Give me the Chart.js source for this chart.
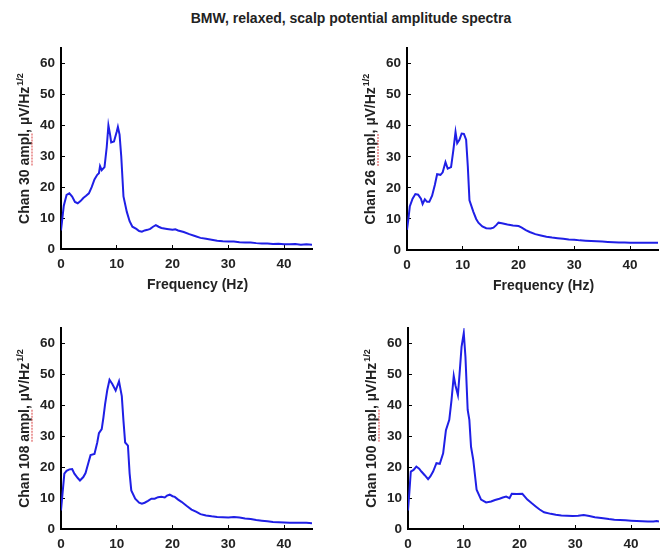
<!DOCTYPE html>
<html>
<head>
<meta charset="utf-8">
<script src="https://cdn.jsdelivr.net/npm/chart.js@4.4.1/dist/chart.umd.min.js"></script>
<style>
body { margin: 0; background: #fff; width: 665px; height: 550px; position: relative; overflow: hidden; font-family: "Liberation Sans", Arial, sans-serif; }
canvas { position: absolute; }
#title { position: absolute; left: 151px; width: 400px; top: 10px; text-align: center; font: bold 14px "Liberation Sans", Arial, sans-serif; color: #222; }
</style>
</head>
<body>
<div id="title">BMW, relaxed, scalp potential amplitude spectra</div>
<canvas id="c30" width="330" height="270" style="left:0px;top:30px"></canvas>
<canvas id="c26" width="330" height="270" style="left:335px;top:30px"></canvas>
<canvas id="c108" width="330" height="240" style="left:0px;top:310px"></canvas>
<canvas id="c100" width="330" height="240" style="left:335px;top:310px"></canvas>
<script>
// axes
const xTicks = [0, 10, 20, 30, 40];
const yTicks = [0, 10, 20, 30, 40, 50, 60];

// Chan 30 (haut gauche)
const chan30Freq = [0, 0.25, 0.5, 1, 1.5, 2, 2.5, 3, 3.5, 4, 4.5, 5, 5.5, 6, 6.5, 6.8, 7, 7.3, 7.8, 8.2, 8.5, 8.8, 9, 9.5, 10, 10.2, 10.5, 10.8, 11.2, 11.8, 12.3, 12.8, 13.5, 14, 14.5, 15, 15.5, 16, 16.5, 17, 17.5, 18, 19, 20, 20.5, 21, 22, 23, 24, 25, 26, 27, 28, 29, 30, 31, 32, 33, 34, 35, 36, 37, 38, 39, 40, 41, 42, 43, 44, 45];
const chan30Amp  = [6, 10, 14, 17.5, 18, 17, 15.2, 14.8, 15.5, 16.5, 17.2, 18, 20, 22.5, 24, 24.5, 26.8, 25.5, 26.5, 33, 40, 37, 34.5, 34.8, 38, 39.5, 37, 30, 17, 12, 9, 7.2, 6.5, 5.8, 5.6, 6, 6.2, 6.5, 7.2, 7.7, 7.2, 6.8, 6.5, 6.2, 6.4, 6, 5.5, 4.8, 4.2, 3.6, 3.3, 3.0, 2.7, 2.5, 2.4, 2.4, 2.2, 2.1, 2.1, 1.9, 1.8, 1.8, 1.6, 1.7, 1.5, 1.5, 1.6, 1.4, 1.5, 1.4];

// Chan 26 (haut droite)
const chan26Freq = [0, 0.25, 0.5, 1, 1.5, 2, 2.5, 2.8, 3.2, 3.6, 4, 4.5, 5, 5.4, 6, 6.4, 6.9, 7.3, 7.9, 8.3, 8.7, 9, 9.4, 9.8, 10.2, 10.6, 10.9, 11.2, 11.9, 12.4, 12.8, 13.5, 14.2, 15, 15.5, 16, 16.4, 17, 18, 19, 20, 20.5, 21.3, 22, 23, 24, 25, 26, 27, 28, 29, 30, 31, 32, 33, 34, 35, 36, 37, 38, 39, 40, 41, 42, 43, 44, 45];
const chan26Amp  = [6.5, 10, 14, 16.5, 18, 17.8, 16.5, 14.8, 16.3, 15.5, 15.5, 17.5, 21, 24.4, 24.2, 25, 28.3, 26.2, 26.7, 32, 38, 34.4, 35.5, 37.5, 37.4, 35.5, 27, 16, 12.3, 10, 8.8, 7.6, 7, 6.9, 7.2, 8, 8.8, 8.6, 8.2, 7.9, 7.7, 7.3, 6.4, 5.8, 5.1, 4.7, 4.3, 4.0, 3.8, 3.6, 3.4, 3.3, 3.1, 3.0, 2.9, 2.8, 2.7, 2.6, 2.5, 2.4, 2.4, 2.3, 2.3, 2.3, 2.3, 2.3, 2.3];

// Chan 108 (bas gauche)
const chan108Freq = [0, 0.3, 0.6, 1, 1.5, 2, 2.4, 3, 3.4, 4, 4.4, 5, 5.3, 6, 6.5, 6.8, 7.3, 7.6, 7.9, 8.3, 8.7, 9.2, 9.8, 10.4, 10.9, 11.2, 11.5, 12, 12.3, 12.6, 13.3, 14, 14.5, 15, 15.6, 16.2, 16.8, 17.4, 18, 18.6, 19, 19.5, 20, 20.4, 21, 21.6, 22.5, 23.4, 24.2, 25, 26, 27, 28, 29, 30, 31, 32, 33, 34, 35, 36, 37, 38, 39, 40, 41, 42, 43, 44, 45];
const chan108Amp  = [6, 12, 17.9, 18.8, 19.3, 19.4, 17.9, 16.5, 15.7, 16.8, 18.1, 22, 23.9, 24.3, 28, 31, 32.3, 36, 40.3, 45, 48.3, 46.9, 44.8, 47.8, 43, 35, 28, 27, 18, 12.5, 9.8, 8.5, 8.2, 8.5, 9.1, 9.8, 9.8, 10.3, 10.4, 10.2, 10.8, 11.1, 10.6, 10.4, 9.5, 8.8, 7.5, 6.3, 5.6, 4.8, 4.4, 4.1, 3.9, 3.8, 3.7, 3.9, 3.7, 3.4, 3.2, 2.9, 2.7, 2.5, 2.3, 2.2, 2.1, 2.0, 2.0, 2.0, 2.0, 1.9];

// Chan 100 (bas droite)
const chan100Freq = [0, 0.25, 0.5, 1, 1.5, 2, 2.4, 3, 3.6, 4, 4.5, 5.1, 5.7, 6.3, 6.8, 7.4, 7.8, 8.2, 8.5, 8.95, 9.25, 9.6, 10, 10.3, 10.7, 11, 11.3, 11.7, 12.3, 13.1, 14, 14.9, 15.6, 16.4, 17, 17.6, 18.2, 18.6, 19.5, 20.5, 21.4, 22.2, 22.9, 23.6, 24.4, 25.6, 26.5, 27.5, 28.5, 29.5, 30.5, 31.5, 32.5, 33.5, 35, 36, 37, 38, 39, 40, 41, 42, 43, 44, 44.6, 45];
const chan100Amp  = [6, 12, 18.6, 19.1, 20.2, 19.5, 18.6, 17.4, 16.1, 17, 18.6, 21.3, 21.1, 24.5, 32, 35.3, 41.7, 49.5, 46.5, 43.3, 50.3, 58.9, 63.4, 55.7, 38.5, 35.3, 26.6, 22.4, 12.7, 9.5, 8.6, 8.9, 9.4, 9.8, 10.2, 10.5, 10, 11.4, 11.3, 11.4, 9.5, 8.3, 7.3, 6.3, 5.4, 4.9, 4.6, 4.4, 4.3, 4.2, 4.3, 4.5, 4.2, 3.8, 3.5, 3.2, 3.0, 2.9, 2.8, 2.7, 2.6, 2.5, 2.4, 2.4, 2.6, 2.4];

const lineColor = '#1f1fe6';
const textColor = '#222';
const tickFont = { family: '"Liberation Sans", Arial, sans-serif', size: 13.5, weight: 'bold' };

// libellés des axes (avec exposant 1/2 et soulignement rouge sous "ampl")
const axisLabels = {
    id: 'axisLabels',
    afterDraw(chart, args, opts) {
        const { ctx, chartArea: a } = chart;
        ctx.save();
        ctx.fillStyle = textColor;
        if (opts.xLabel) {
            ctx.font = 'bold 14px "Liberation Sans", Arial, sans-serif';
            ctx.textAlign = 'center';
            ctx.textBaseline = 'middle';
            ctx.fillText(opts.xLabel, (a.left + a.right) / 2 + 11, a.bottom + 36);
        }
        const main = opts.yLabel;
        const sup = '1/2';
        ctx.translate(a.left - 32, (a.top + a.bottom) / 2);
        ctx.rotate(-Math.PI / 2);
        ctx.font = 'bold 14px "Liberation Sans", Arial, sans-serif';
        const w1 = ctx.measureText(main).width;
        const pre = ctx.measureText(main.slice(0, main.indexOf('ampl'))).width;
        const pw = ctx.measureText('ampl').width;
        ctx.font = 'bold 9px "Liberation Sans", Arial, sans-serif';
        const w2 = ctx.measureText(sup).width;
        const start = -(w1 + w2 + 1) / 2;
        ctx.textAlign = 'left';
        ctx.textBaseline = 'alphabetic';
        ctx.font = 'bold 14px "Liberation Sans", Arial, sans-serif';
        ctx.fillText(main, start, 0);
        ctx.font = 'bold 9px "Liberation Sans", Arial, sans-serif';
        ctx.fillText(sup, start + w1 + 1, -6);
        ctx.strokeStyle = '#e06060';
        ctx.lineWidth = 1.2;
        ctx.setLineDash([2, 1]);
        ctx.beginPath();
        ctx.moveTo(start + pre, 3);
        ctx.lineTo(start + pre + pw, 3);
        ctx.stroke();
        ctx.restore();
    }
};

function makeChart(id, freq, amp, yLabel, xLabel, yAxisW, xAxisH, padTop, padRight) {
    return new Chart(document.getElementById(id), {
        type: 'line',
        data: {
            datasets: [{
                data: freq.map((f, i) => ({ x: f, y: amp[i] })),
                borderColor: lineColor,
                borderWidth: 2,
                pointRadius: 0,
                tension: 0
            }]
        },
        options: {
            responsive: false,
            animation: false,
            events: [],
            layout: { padding: { top: padTop, right: padRight, left: 0, bottom: 0 } },
            plugins: {
                legend: { display: false },
                tooltip: { enabled: false },
                axisLabels: { xLabel: xLabel, yLabel: yLabel }
            },
            scales: {
                x: {
                    type: 'linear', min: 0, max: 45,
                    afterBuildTicks: s => { s.ticks = xTicks.map(v => ({ value: v })); },
                    afterFit: s => { s.height = xAxisH; },
                    grid: { drawOnChartArea: false, drawTicks: true, tickLength: -4, color: '#000', lineWidth: 1 },
                    border: { color: '#000', width: 2 },
                    ticks: { padding: 11, color: textColor, font: tickFont, maxRotation: 0, autoSkip: false }
                },
                y: {
                    type: 'linear', min: 0, max: 65,
                    afterBuildTicks: s => { s.ticks = yTicks.map(v => ({ value: v })); },
                    afterFit: s => { s.width = yAxisW; },
                    grid: { drawOnChartArea: false, drawTicks: true, tickLength: -4, color: '#000', lineWidth: 1 },
                    border: { color: '#000', width: 2 },
                    ticks: { padding: 10, color: textColor, font: tickFont, autoSkip: false }
                }
            }
        },
        plugins: [axisLabels]
    });
}

makeChart('c30', chan30Freq, chan30Amp, 'Chan 30 ampl, µV/Hz', 'Frequency (Hz)', 61, 51, 17, 18);
makeChart('c26', chan26Freq, chan26Amp, 'Chan 26 ampl, µV/Hz', 'Frequency (Hz)', 72, 50, 18, 7);
makeChart('c108', chan108Freq, chan108Amp, 'Chan 108 ampl, µV/Hz', null, 61, 21, 16, 18);
makeChart('c100', chan100Freq, chan100Amp, 'Chan 100 ampl, µV/Hz', null, 73, 21, 16, 6);
</script>
</body>
</html>
